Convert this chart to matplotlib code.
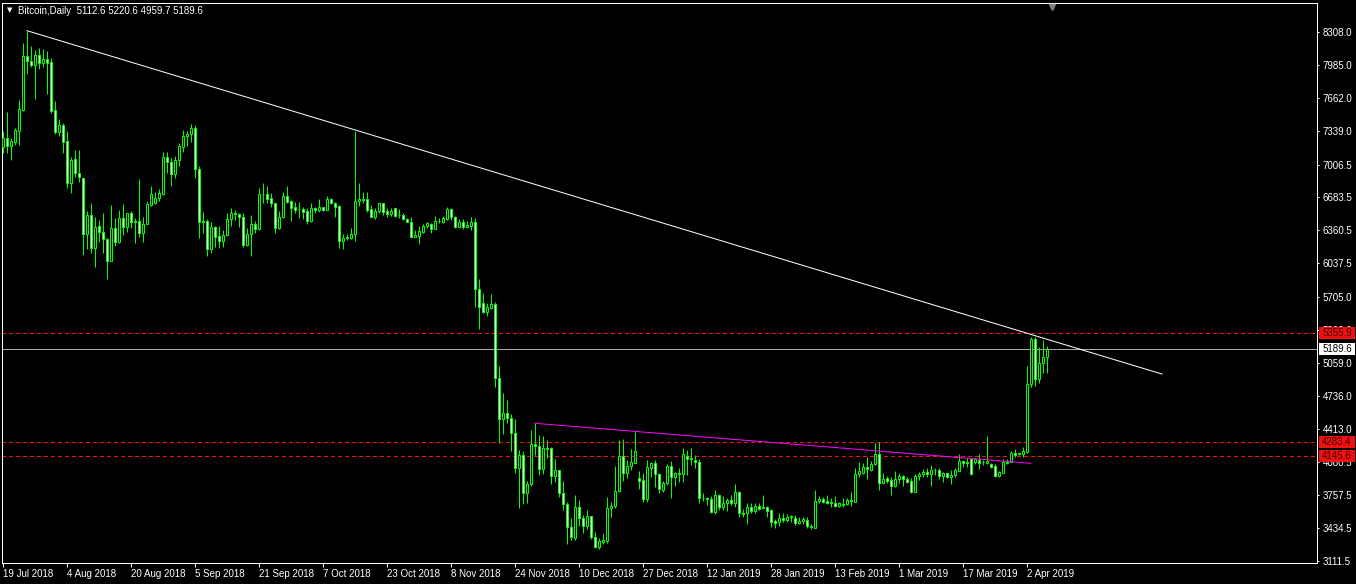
"""
Bitcoin daily candles, Jul 2018 - Apr 2019, MT4 style (green on black).
Falling trendline, neckline and marked price levels.
"""

import numpy as np
import pandas as pd
import matplotlib
matplotlib.use("Agg")
import matplotlib.pyplot as plt

# ── Data ──────────────────────────────────────────────────────────────
opens = [
    7182, 7264, 7188, 7231, 7339, 7542, 8072, 8026, 7984, 8082,
    8007, 8040, 8013, 7542, 7329, 7391, 7237, 6828, 7057, 6920,
    6871, 6321, 6510, 6190, 6402, 6340, 6275, 6062, 6379, 6249,
    6478, 6389, 6527, 6445, 6451, 6330, 6419, 6609, 6632, 6674,
    6717, 7077, 7034, 6910, 7051, 7182, 7286, 7303, 7362, 6959,
    6445, 6451, 6173, 6389, 6304, 6255, 6314, 6471, 6527, 6524,
    6494, 6216, 6324, 6422, 6376, 6713, 6717, 6674, 6625, 6380,
    6494, 6697, 6648, 6586, 6566, 6566, 6553, 6455, 6583, 6560,
    6586, 6560, 6664, 6625, 6599, 6258, 6288, 6288, 6321, 6648,
    6668, 6664, 6566, 6494, 6553, 6625, 6550, 6517, 6576, 6510,
    6510, 6471, 6445, 6298, 6304, 6347, 6402, 6422, 6370, 6455,
    6445, 6471, 6566, 6488, 6396, 6442, 6389, 6406, 6438, 5780,
    5643, 5561, 5594, 5633, 4913, 4503, 4562, 4520, 4366, 4022,
    4153, 3776, 3865, 4258, 4244, 4012, 4225, 4218, 3947, 4005,
    3783, 3668, 3449, 3334, 3639, 3531, 3455, 3554, 3351, 3252,
    3301, 3311, 3629, 3652, 3799, 4143, 3979, 4045, 4078, 3924,
    3907, 3717, 4028, 4071, 3963, 3809, 3875, 4045, 3933, 3973,
    3963, 4146, 4114, 4104, 4081, 3727, 3727, 3717, 3596, 3760,
    3645, 3678, 3711, 3685, 3793, 3586, 3580, 3639, 3606, 3652,
    3629, 3639, 3613, 3508, 3492, 3537, 3514, 3547, 3531, 3488,
    3507, 3514, 3456, 3439, 3701, 3721, 3704, 3694, 3685, 3652,
    3672, 3672, 3711, 3694, 3963, 3973, 4038, 4005, 4061, 4159,
    3881, 3924, 3907, 3852, 3914, 3950, 3917, 3897, 3793, 3947,
    3963, 3989, 3966, 4005, 4005, 3950, 3973, 3940, 3956, 3999,
    4094, 4081, 4110, 4087, 4104, 4087, 4078, 4061, 4048, 3950,
    3979, 4087, 4087, 4169, 4160, 4163, 4186, 4847, 5292, 4896,
    5053, 5112.6,
]
highs = [
    7336, 7519, 7264, 7362, 7640, 8203, 8321, 8171, 8131, 8148,
    8141, 8121, 8056, 7630, 7450, 7411, 7336, 7083, 7149, 7149,
    6871, 6550, 6632, 6494, 6461, 6533, 6288, 6609, 6484, 6560,
    6619, 6527, 6550, 6484, 6864, 6494, 6648, 6795, 6733, 6766,
    7129, 7129, 7074, 7093, 7214, 7345, 7336, 7404, 7394, 6992,
    6543, 6471, 6438, 6402, 6402, 6363, 6527, 6583, 6559, 6527,
    6527, 6386, 6510, 6451, 6779, 6828, 6795, 6723, 6625, 6553,
    6740, 6795, 6658, 6635, 6635, 6592, 6576, 6625, 6592, 6668,
    6592, 6697, 6681, 6641, 6609, 6324, 6324, 6386, 7336, 6822,
    6740, 6740, 6609, 6576, 6625, 6632, 6576, 6583, 6576, 6566,
    6533, 6484, 6488, 6363, 6402, 6422, 6438, 6435, 6501, 6478,
    6501, 6586, 6576, 6501, 6468, 6468, 6455, 6488, 6478, 5879,
    5741, 5649, 5734, 5653, 5027, 4759, 4693, 4556, 4503, 4202,
    4192, 3898, 4398, 4464, 4349, 4339, 4300, 4235, 4110, 4005,
    3898, 3694, 3531, 3760, 3711, 3564, 3613, 3554, 3400, 3341,
    3383, 3744, 3688, 4048, 4300, 4310, 4104, 4212, 4382, 3996,
    3973, 4104, 4087, 4104, 3979, 3901, 4064, 4094, 3989, 4022,
    4218, 4202, 4218, 4153, 4110, 3776, 3744, 3750, 3809, 3770,
    3750, 3727, 3760, 3868, 3803, 3619, 3678, 3678, 3678, 3678,
    3760, 3652, 3619, 3524, 3580, 3586, 3570, 3564, 3564, 3547,
    3547, 3547, 3475, 3809, 3750, 3737, 3760, 3734, 3750, 3694,
    3727, 3727, 3793, 4028, 4087, 4078, 4137, 4097, 4267, 4284,
    3979, 3947, 3940, 3999, 3973, 3956, 3933, 3924, 3966, 3989,
    4012, 4022, 4055, 4022, 4022, 3989, 3979, 4005, 4022, 4160,
    4104, 4120, 4127, 4120, 4160, 4104, 4340, 4071, 4065, 3999,
    4110, 4114, 4196, 4209, 4169, 4235, 5030, 5315, 5309, 5217,
    5283, 5220.6,
]
lows = [
    7123, 7123, 7051, 7198, 7198, 7535, 7896, 7968, 7650, 7945,
    7968, 7699, 7509, 7306, 7286, 7123, 6779, 6730, 6887, 6838,
    6118, 6177, 6140, 6003, 6249, 6140, 5885, 6062, 6206, 6239,
    6314, 6347, 6379, 6232, 6298, 6249, 6419, 6602, 6622, 6651,
    6707, 6920, 6799, 6877, 6995, 7133, 7191, 7231, 6871, 6288,
    6330, 6111, 6140, 6193, 6190, 6193, 6307, 6406, 6461, 6396,
    6199, 6209, 6111, 6337, 6363, 6632, 6632, 6586, 6330, 6373,
    6484, 6625, 6451, 6527, 6484, 6471, 6419, 6438, 6533, 6543,
    6553, 6560, 6615, 6494, 6190, 6176, 6265, 6275, 6255, 6602,
    6625, 6543, 6487, 6471, 6527, 6510, 6494, 6504, 6494, 6478,
    6461, 6438, 6288, 6298, 6226, 6337, 6379, 6337, 6370, 6429,
    6435, 6461, 6461, 6379, 6389, 6370, 6379, 6363, 5603, 5387,
    5551, 5522, 5587, 4824, 4268, 4356, 4471, 4196, 3979, 3629,
    3668, 3678, 3848, 4153, 3956, 3966, 4120, 3868, 3891, 3744,
    3613, 3275, 3318, 3318, 3455, 3390, 3423, 3324, 3236, 3226,
    3279, 3285, 3541, 3636, 3793, 3901, 3924, 4005, 4071, 3816,
    3694, 3694, 3940, 3842, 3776, 3793, 3858, 3734, 3852, 3891,
    3891, 3956, 4055, 4022, 3678, 3701, 3662, 3580, 3573, 3613,
    3613, 3606, 3662, 3639, 3547, 3547, 3475, 3580, 3580, 3613,
    3619, 3547, 3449, 3433, 3455, 3498, 3498, 3498, 3465, 3475,
    3475, 3433, 3423, 3433, 3685, 3678, 3672, 3645, 3639, 3645,
    3639, 3662, 3652, 3694, 3940, 3963, 3917, 3999, 4055, 3809,
    3865, 3881, 3760, 3842, 3875, 3852, 3875, 3776, 3793, 3907,
    3934, 3940, 3852, 3956, 3917, 3891, 3924, 3868, 3940, 3999,
    4038, 4038, 3956, 4065, 4015, 4055, 4061, 4022, 3940, 3940,
    3973, 4065, 4081, 4130, 4153, 4130, 4176, 4824, 4834, 4857,
    4962, 4959.7,
]
closes = [
    7264, 7188, 7237, 7345, 7548, 8072, 8026, 7984, 8082, 8007,
    8043, 8007, 7535, 7329, 7391, 7231, 6828, 7051, 6920, 6880,
    6321, 6510, 6190, 6396, 6340, 6271, 6062, 6379, 6249, 6478,
    6389, 6527, 6445, 6451, 6330, 6419, 6615, 6713, 6674, 6723,
    7077, 7034, 6910, 7051, 7188, 7286, 7306, 7362, 6959, 6445,
    6451, 6173, 6389, 6298, 6255, 6314, 6471, 6527, 6524, 6494,
    6216, 6324, 6419, 6370, 6717, 6717, 6668, 6625, 6386, 6494,
    6697, 6641, 6583, 6560, 6566, 6543, 6455, 6583, 6560, 6586,
    6560, 6664, 6625, 6592, 6258, 6288, 6298, 6321, 6648, 6668,
    6658, 6560, 6494, 6553, 6625, 6543, 6517, 6550, 6504, 6510,
    6468, 6445, 6298, 6314, 6353, 6402, 6429, 6370, 6455, 6455,
    6478, 6566, 6488, 6396, 6445, 6389, 6412, 6438, 5780, 5610,
    5561, 5603, 5633, 4913, 4503, 4562, 4520, 4366, 4022, 4153,
    3776, 3868, 4258, 4244, 4012, 4225, 4212, 3947, 4005, 3783,
    3668, 3449, 3344, 3639, 3531, 3455, 3554, 3351, 3252, 3308,
    3318, 3629, 3655, 3799, 4143, 3979, 4045, 4087, 4192, 3901,
    3717, 4032, 4071, 3963, 3816, 3875, 4045, 3933, 3973, 3963,
    4159, 4114, 4120, 4081, 3727, 3727, 3717, 3596, 3760, 3639,
    3678, 3711, 3685, 3793, 3586, 3573, 3639, 3606, 3652, 3622,
    3639, 3606, 3498, 3488, 3537, 3514, 3547, 3554, 3482, 3507,
    3521, 3456, 3445, 3704, 3721, 3694, 3685, 3678, 3652, 3678,
    3662, 3711, 3701, 3963, 3996, 4038, 4012, 4064, 4159, 3881,
    3917, 3901, 3852, 3917, 3950, 3914, 3891, 3793, 3947, 3963,
    3989, 3963, 4005, 4005, 3950, 3973, 3940, 3956, 4005, 4094,
    4078, 4071, 3966, 4110, 4078, 4087, 4094, 4038, 3950, 3989,
    4087, 4071, 4169, 4153, 4169, 4192, 4847, 5292, 4896, 5060,
    5119, 5189.6,
]

first_day = "2018-07-19"
last_day = "2019-04-07"
missing_days = ["2018-12-25"]

# drawn objects
trend_bars = [6, 289.75]
trend_prices = [8321, 4948]
neck_bars = [133, 257]
neck_prices = [4464, 4071]
red_levels = [5355.9, 4283.4, 4145.6]
bid_price = 5189.6
shift_bar = 262.25

price_ticks = [8308.0, 7985.0, 7662.0, 7339.0, 7006.5, 6683.5, 6360.5,
               6037.5, 5705.0, 5382.0, 5059.0, 4736.0, 4413.0, 4080.5,
               3757.5, 3434.5, 3111.5]
title = "Bitcoin,Daily  5112.6 5220.6 4959.7 5189.6"

# ── Style ─────────────────────────────────────────────────────────────
LIME = "#00FF00"
RED = "#F01010"
GRAY = "#A8A8A8"
PX = 0.72  # one pixel in points at dpi 100
W, H = 1356, 584

plt.rcParams["font.family"] = ["Liberation Sans", "DejaVu Sans"]

dates = pd.date_range(first_day, last_day, freq="D")
dates = dates[~dates.isin(pd.to_datetime(missing_days))]
o = np.array(opens, dtype=float)
h = np.array(highs, dtype=float)
l = np.array(lows, dtype=float)
c = np.array(closes, dtype=float)
x = np.arange(len(o))

fig = plt.figure(figsize=(W / 100, H / 100), dpi=100, facecolor="black")
ax = fig.add_axes([2 / W, (H - 563) / H, 1315 / W, 560 / H])
ax.set_facecolor("black")
ax.set_xlim(-0.25, -0.25 + 1315 / 4)
ax.set_ylim(3092.0, 8593.0)

# level lines: aliased so each one is a crisp single pixel row
for lvl in red_levels:
    ax.axhline(lvl, color=RED, lw=PX, dashes=(4, 3), zorder=1,
               antialiased=False)
ax.axhline(bid_price, color=GRAY, lw=PX, zorder=1, antialiased=False)

# candles: wick, then body (black = up, white = down)
ax.vlines(x, l, h, color=LIME, lw=PX, zorder=2)
up = c >= o
ax.bar(x, np.abs(c - o), bottom=np.minimum(o, c), width=0.5,
       color=np.where(up, "black", "white"), edgecolor=LIME,
       linewidth=PX, zorder=3)

ax.plot(trend_bars, trend_prices, color="white", lw=PX, zorder=4)
ax.plot(neck_bars, neck_prices, color="#FF00FF", lw=PX, zorder=4)

# frame and axes
for side in ["left", "right", "top", "bottom"]:
    ax.spines[side].set_color("white")
    ax.spines[side].set_linewidth(PX)

tick_idx = list(range(0, len(dates), 16))
ax.set_xticks(tick_idx)
ax.set_xticklabels([f"{dates[i].day} {dates[i].strftime('%b %Y')}"
                    for i in tick_idx], ha="left")
ax.tick_params(axis="x", colors="white", length=3, width=PX,
               labelsize=7, pad=1.5)
ax.yaxis.tick_right()
ax.set_yticks(price_ticks)
ax.set_yticklabels([f"{v:.1f}" for v in price_ticks])
ax.tick_params(axis="y", colors="white", length=1.5, width=PX,
               labelsize=7, pad=2.5)

# price labels on the scale
ytrans = ax.get_yaxis_transform()
box_h = 12 * 9.823
for lvl, face, txt in [(red_levels[0], RED, "#3a0000"),
                       (red_levels[1], RED, "#3a0000"),
                       (red_levels[2], RED, "#3a0000"),
                       (bid_price, "white", "black")]:
    ax.add_patch(plt.Rectangle((1.0013, lvl - box_h / 2), 0.0274, box_h,
                               transform=ytrans, facecolor=face,
                               edgecolor="none", clip_on=False, zorder=5))
    ax.text(1.0040, lvl, f"{lvl:.1f}", transform=ytrans, color=txt,
            fontsize=7, va="center", ha="left", clip_on=False, zorder=6)

# title and chart-shift marker
fig.text(7 / W, 1 - 10 / H, "\u25bc", color="white", fontsize=5,
         va="center", ha="left", family="DejaVu Sans")
fig.text(18 / W, 1 - 10.5 / H, title, color="white", fontsize=7,
         va="center", ha="left")
ax.plot([shift_bar], [0.992], marker="v", ms=5, color="#808080",
        transform=ax.get_xaxis_transform(), clip_on=False, zorder=6)

fig.savefig("out.png", dpi=100, facecolor="black")
